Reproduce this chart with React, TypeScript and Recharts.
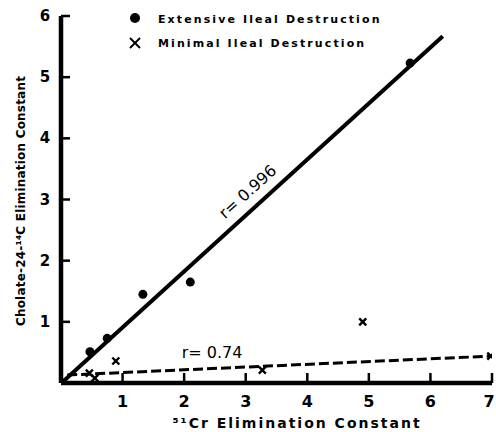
// Cholate-24-14C vs 51Cr elimination constants, scatter with two regression lines
import { ScatterChart, Scatter, XAxis, YAxis, ReferenceLine } from 'recharts';

const extensiveX = [0.47, 0.75, 1.33, 2.1, 5.67];
const extensiveY = [0.51, 0.73, 1.45, 1.65, 5.23];
const minimalX = [0.46, 0.55, 0.89, 3.27, 4.9, 6.98];
const minimalY = [0.16, 0.08, 0.36, 0.21, 1.0, 0.44];

// regression line end points, data units
const extensiveFitX = [0.03, 6.2];
const extensiveFitY = [0.02, 5.67];
const minimalFitX = [0.1, 7];
const minimalFitY = [0.13, 0.44];

const xTicks = [1, 2, 3, 4, 5, 6, 7];
const yTicks = [1, 2, 3, 4, 5, 6];

const extensive = extensiveX.map((x, i) => ({ x, y: extensiveY[i] }));
const minimal = minimalX.map((x, i) => ({ x, y: minimalY[i] }));

const FONT = '"DejaVu Sans", sans-serif';
const X_TICK = 10; // inward tick length, px
const Y_TICK = 9;

// eslint-disable-next-line @typescript-eslint/no-explicit-any
const Cross = (props: any) => {
  const { cx, cy } = props;
  const s = 3.5;
  return (
    <g stroke="#000" strokeWidth={2.4}>
      <line x1={cx - s} y1={cy - s} x2={cx + s} y2={cy + s} />
      <line x1={cx - s} y1={cy + s} x2={cx + s} y2={cy - s} />
    </g>
  );
};

// tick text sits at the inner end of the (negative) tick, move it back outside
// eslint-disable-next-line @typescript-eslint/no-explicit-any
const XTick = (props: any) => {
  const { x, y, payload } = props;
  return (
    <text x={Math.min(x, 489)} y={y + X_TICK + 24} textAnchor="middle" fontFamily={FONT} fontWeight="bold" fontSize={16} fill="#000">
      {payload.value}
    </text>
  );
};

// eslint-disable-next-line @typescript-eslint/no-explicit-any
const YTick = (props: any) => {
  const { x, y, payload } = props;
  return (
    <text x={x - Y_TICK - 16} y={y + 5} textAnchor="middle" fontFamily={FONT} fontWeight="bold" fontSize={15} fill="#000">
      {payload.value}
    </text>
  );
};

export default function App() {
  return (
    <div style={{ position: 'absolute', left: 0, top: 0, width: 496, height: 432, background: '#fff' }}>
      <ScatterChart width={496} height={432} margin={{ top: 16, right: 4, bottom: 0, left: 0 }}>
        <XAxis
          type="number"
          dataKey="x"
          domain={[0, 7]}
          ticks={xTicks}
          allowDataOverflow
          height={49}
          tickSize={-X_TICK}
          tickMargin={0}
          tickLine={{ stroke: '#000', strokeWidth: 2.5 }}
          tick={XTick}
          axisLine={{ stroke: '#000', strokeWidth: 4.5 }}
          label={{
            content: () => (
              <text x={297} y={428} textAnchor="middle" fontFamily={FONT} fontWeight="bold" fontSize={14} letterSpacing={2} fill="#000">
                ⁵¹Cr Elimination Constant
              </text>
            ),
          }}
        />
        <YAxis
          type="number"
          dataKey="y"
          domain={[0, 6]}
          ticks={yTicks}
          allowDataOverflow
          width={61}
          tickSize={-Y_TICK}
          tickMargin={0}
          tickLine={{ stroke: '#000', strokeWidth: 2.5 }}
          tick={YTick}
          axisLine={{ stroke: '#000', strokeWidth: 4.5 }}
          label={{
            content: () => (
              <text x={25} y={201} transform="rotate(-90 25 201)" textAnchor="middle" fontFamily={FONT} fontWeight="bold" fontSize={12} letterSpacing={0.2} fill="#000">
                Cholate-24-¹⁴C Elimination Constant
              </text>
            ),
          }}
        />
        <ReferenceLine
          segment={[
            { x: extensiveFitX[0], y: extensiveFitY[0] },
            { x: extensiveFitX[1], y: extensiveFitY[1] },
          ]}
          stroke="#000"
          strokeWidth={4}
        />
        <ReferenceLine
          segment={[
            { x: minimalFitX[0], y: minimalFitY[0] },
            { x: minimalFitX[1], y: minimalFitY[1] },
          ]}
          stroke="#000"
          strokeWidth={3}
          strokeDasharray="10 4"
        />
        <Scatter name="Extensive Ileal Destruction" data={extensive} fill="#000" isAnimationActive={false}
          shape={(p: any) => <circle cx={p.cx} cy={p.cy} r={4.5} fill="#000" />}
        />
        <Scatter name="Minimal Ileal Destruction" data={minimal} fill="#000" isAnimationActive={false} shape={Cross} />
      </ScatterChart>
      <svg width={496} height={432} style={{ position: 'absolute', left: 0, top: 0, pointerEvents: 'none' }}>
        <circle cx={135} cy={18} r={5} fill="#000" />
        <text x={158} y={23} fontFamily={FONT} fontWeight="bold" fontSize={11} letterSpacing={2.1} fill="#000">
          Extensive Ileal Destruction
        </text>
        <g stroke="#000" strokeWidth={2}>
          <line x1={130} y1={38} x2={140} y2={48} />
          <line x1={130} y1={48} x2={140} y2={38} />
        </g>
        <text x={158} y={47} fontFamily={FONT} fontWeight="bold" fontSize={11} letterSpacing={2.1} fill="#000">
          Minimal Ileal Destruction
        </text>
        <text x={248} y={197} transform="rotate(-42 248 192)" textAnchor="middle" fontFamily={FONT} fontSize={16} fill="#000">
          r= 0.996
        </text>
        <text x={212} y={358} textAnchor="middle" fontFamily={FONT} fontSize={16} fill="#000">
          r= 0.74
        </text>
      </svg>
    </div>
  );
}
